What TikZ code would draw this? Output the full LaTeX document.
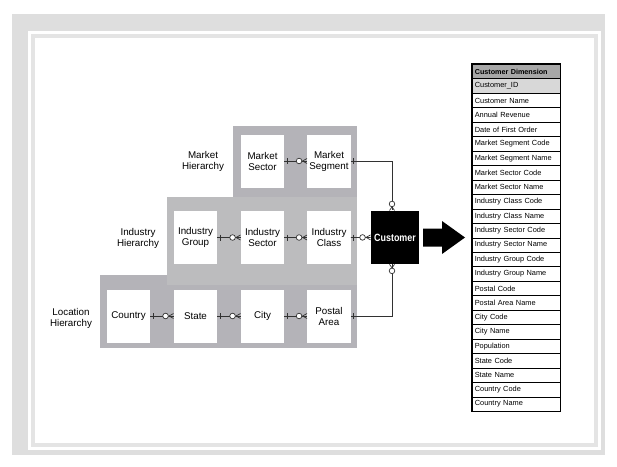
\documentclass[tikz,border=0pt]{standalone}
\usepackage{fontspec}
\setmainfont{Liberation Sans}
\usepackage{graphicx}
\definecolor{framegray}{RGB}{222,222,222}
\definecolor{bandgray}{RGB}{228,228,228}
\definecolor{hiergray}{RGB}{180,179,184}
\definecolor{indgray}{RGB}{188,188,190}
\definecolor{linkc}{RGB}{50,50,50}
\definecolor{hdrgray}{RGB}{168,168,168}
\definecolor{idgray}{RGB}{216,216,216}
\newcommand\relh[2]{%
  \draw[conn] (#1.east) -- (#2.west);
  \draw[conn] ([xshift=2.5pt,yshift=3pt]#1.east) -- ([xshift=2.5pt,yshift=-3pt]#1.east);
  \draw[conn,fill=white] ([xshift=-8pt]#2.west) circle (2.8pt);
  \draw[conn] ([xshift=-4.5pt]#2.west) -- ([yshift=2.5pt]#2.west);
  \draw[conn] ([xshift=-4.5pt]#2.west) -- ([yshift=-2.5pt]#2.west);
}
\begin{document}
\begin{tikzpicture}[x=1pt,y=-1pt,
  ent/.style={fill=white, minimum width=43.5pt, minimum height=53pt, inner sep=0pt,
    align=center, font=\fontsize{9.8}{11}\selectfont},
  lbl/.style={align=center, inner sep=0pt, font=\fontsize{9.8}{11}\selectfont},
  conn/.style={draw=linkc, line width=0.7pt},
  row/.style={draw=black, line width=0.6pt, anchor=north west, text width=82pt,
    inner xsep=3pt, inner ysep=0pt, minimum height=14.46pt, align=left,
    font=\fontsize{7.4}{8}\selectfont}]
\useasboundingbox (0,0) rectangle (617,466);
% frame
\fill[framegray] (12,14) rectangle (605,455);
\fill[white] (28,31) rectangle (601,450);
\fill[bandgray] (31,34) rectangle (598,447);
\fill[white] (34.5,38) rectangle (594,443);
% hierarchy backgrounds
\fill[hiergray] (100,275) rectangle (357,348);
\fill[hiergray] (233,126) rectangle (357,200);
\fill[indgray] (167,197) rectangle (357,285);
% labels
\node[lbl] (lm) at (203,161) {Market\\Hierarchy};
\node[lbl] (li) at (138,238.5) {Industry\\Hierarchy};
\node[lbl] (ll) at (71,318.5) {Location\\Hierarchy};
% entities
\node[ent] (msec) at (262.5,161) {Market\\Sector};
\node[ent] (mseg) at (329,161) {Market\\Segment};
\node[ent] (igrp) at (195.5,237.5) {Industry\\Group};
\node[ent] (isec) at (262.5,237.5) {Industry\\Sector};
\node[ent] (icls) at (329,237.5) {Industry\\Class};
\node[ent] (cntry) at (128.5,316) {Country};
\node[ent] (state) at (195.5,316) {State};
\node[ent] (city) at (262.5,316) {City};
\node[ent] (postal) at (329,316) {Postal\\Area};
\node[fill=black, text=white, minimum width=48.5pt, minimum height=53.5pt, inner sep=0pt,
  font=\fontsize{10.5}{12}\selectfont\bfseries] (cust) at (395,237.4) {\scalebox{0.85}[1]{Customer}};
\coordinate (cx) at (392,237.4);
% relationships
\relh{msec}{mseg}
\relh{igrp}{isec}
\relh{isec}{icls}
\relh{icls}{cust}
\relh{cntry}{state}
\relh{state}{city}
\relh{city}{postal}
% segment -> customer
\draw[conn] (mseg.east) -| (cust.north -| cx);
\draw[conn] ([xshift=2.5pt,yshift=3pt]mseg.east) -- ([xshift=2.5pt,yshift=-3pt]mseg.east);
\draw[conn,fill=white] ([yshift=6.5pt]cust.north -| cx) circle (2.8pt);
\draw[conn] ([yshift=3.5pt]cust.north -| cx) -- ([xshift=-2.5pt]cust.north -| cx);
\draw[conn] ([yshift=3.5pt]cust.north -| cx) -- ([xshift=2.5pt]cust.north -| cx);
% postal -> customer
\draw[conn] (postal.east) -| (cust.south -| cx);
\draw[conn] ([xshift=2.5pt,yshift=3pt]postal.east) -- ([xshift=2.5pt,yshift=-3pt]postal.east);
\draw[conn,fill=white] ([yshift=-6.5pt]cust.south -| cx) circle (2.8pt);
\draw[conn] ([yshift=-3.5pt]cust.south -| cx) -- ([xshift=-2.5pt]cust.south -| cx);
\draw[conn] ([yshift=-3.5pt]cust.south -| cx) -- ([xshift=2.5pt]cust.south -| cx);
% big arrow
\fill[black] (423,228.5) -- (442,228.5) -- (442,221) -- (465,237.5) -- (442,254)
  -- (442,246.5) -- (423,246.5) -- cycle;
% table
\node[row, fill=hdrgray, font=\fontsize{7.2}{8}\selectfont\bfseries] (hdr) at (471.5,64) {Customer Dimension};
\foreach \t [count=\i] in {Customer\_ID, Customer Name, Annual Revenue, Date of First Order,
  Market Segment Code, Market Segment Name, Market Sector Code, Market Sector Name,
  Industry Class Code, Industry Class Name, Industry Sector Code, Industry Sector Name,
  Industry Group Code, Industry Group Name, Postal Code, Postal Area Name, City Code,
  City Name, Population, State Code, State Name, Country Code, Country Name}{
  \ifnum\i=1
    \node[row, fill=idgray] (r\i) at (471.5,{64+\i*14.46}) {\t};
  \else
    \node[row] (r\i) at (471.5,{64+\i*14.46}) {\t};
  \fi
}
\draw[line width=1.1pt] (hdr.north west) rectangle (r23.south east);
\end{tikzpicture}
\end{document}
